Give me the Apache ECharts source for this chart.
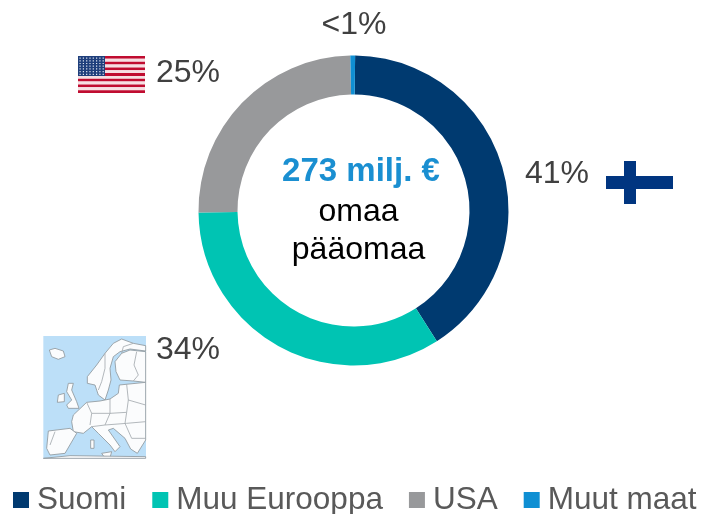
<!DOCTYPE html>
<html>
<head>
<meta charset="utf-8">
<script src="https://cdn.jsdelivr.net/npm/echarts@6/dist/echarts.min.js"></script>
<style>
html, body { margin: 0; padding: 0; background: #fff; }
#main { width: 701px; height: 514px; }
</style>
</head>
<body>
<div id="main"></div>
<script>
var categories = ['Suomi', 'Muu Eurooppa', 'USA', 'Muut maat'];
var values = [41, 34, 25, 0.5];
var valueLabels = ['41%', '34%', '25%', '<1%'];
var colors = ['#003a70', '#00c4b3', '#98999b', '#0f8fd3'];

var font = '"Liberation Sans", Arial, sans-serif';

// kiinteät paikat prosenttiteksteille (keskipiste)
var labelPos = [[557, 174], [188, 350], [188, 73], [354, 25]];

// Euroopan kartan ääriviivat, karkeasti (oma koordinaatisto, skaalataan 1/3)
var land = [
	[[58,75],[75,70],[100,78],[105,95],[85,103],[65,95]],
	[[172,155],[200,120],[225,85],[250,55],[275,42],[310,55],[347,62],[347,78],[300,72],[270,80],[250,95],[240,130],[243,165],[235,195],[225,225],[205,210],[195,180],[172,175]],
	[[255,110],[275,85],[300,75],[347,80],[347,172],[310,168],[270,165],[258,140]],
	[[115,175],[130,175],[125,195],[140,230],[147,250],[115,250],[110,240],[125,225],[110,200]],
	[[85,210],[103,205],[103,230],[82,232]],
	[[130,270],[170,232],[210,228],[240,222],[265,205],[268,180],[347,172],[347,345],[322,385],[302,372],[285,340],[250,310],[235,315],[270,365],[255,380],[240,360],[205,325],[185,305],[160,325],[130,320],[125,290]],
	[[55,318],[120,310],[140,325],[105,385],[60,390],[50,370]],
	[[182,345],[192,345],[192,370],[182,370]],
	[[215,385],[245,380],[240,398],[222,395]],
	[[40,400],[120,392],[347,395],[347,400]]
];
var borders = [
	[[225,85],[225,130],[215,170],[205,195]],
	[[275,85],[280,65],[310,55]],
	[[320,80],[312,120],[325,150],[310,168]],
	[[290,178],[295,225],[347,240]],
	[[240,222],[240,265],[290,262],[295,225]],
	[[170,232],[185,265],[180,300]],
	[[185,265],[240,265],[225,300],[185,305]],
	[[225,300],[290,295],[347,290]],
	[[290,262],[285,295],[305,340],[347,340]],
	[[60,360],[75,320]]
];

function polys(list, closed, style) {
	return list.map(function(pts) {
		return {
			type: closed ? 'polygon' : 'polyline',
			shape: { points: pts },
			style: style,
			silent: true
		};
	});
}

var europe = {
	type: 'group', x: 30, y: 325, scaleX: 1 / 3, scaleY: 1 / 3,
	children: [{
		type: 'rect',
		shape: { x: 40, y: 33, width: 308, height: 367 },
		style: { fill: '#bcdff8' }
	}].concat(
		polys(land, true, { fill: '#fbfcfd', stroke: '#8f979c', lineWidth: 2.5 }),
		polys(borders, false, { fill: null, stroke: '#a3aaaf', lineWidth: 2.5 })
	)
};

// USA:n lippu
var usa = [];
for (var i = 0; i < 13; i++) {
	usa.push({
		type: 'rect',
		shape: { x: 78, y: 56 + i * 37 / 13, width: 67, height: 37 / 13 },
		style: { fill: i % 2 ? '#f6dfe3' : '#c00c30' }
	});
}
usa.push({ type: 'rect', shape: { x: 78, y: 56, width: 27, height: 20 }, style: { fill: '#1f3f7c' } });
for (var r = 0; r < 7; r++) {
	for (var c = 0; c < 8; c++) {
		usa.push({
			type: 'rect',
			shape: { x: 79.5 + c * 3.3, y: 57.5 + r * 2.7, width: 1.2, height: 1.2 },
			style: { fill: '#dfe5f0' }
		});
	}
}

var finland = [
	{ type: 'rect', shape: { x: 606, y: 161, width: 67, height: 42 }, style: { fill: '#fff' } },
	{ type: 'rect', shape: { x: 606, y: 176, width: 67, height: 13 }, style: { fill: '#003580' } },
	{ type: 'rect', shape: { x: 624, y: 161, width: 12, height: 43 }, style: { fill: '#003580' } }
];

function centerText(text, x, y, size, color, weight) {
	return {
		type: 'text', x: x, y: y,
		style: {
			text: text, fill: color, font: weight + ' ' + size + 'px ' + font,
			textAlign: 'center', textVerticalAlign: 'middle'
		}
	};
}

var chart = echarts.init(document.getElementById('main'));
chart.setOption({
	animation: false,
	color: colors,
	legend: {
		orient: 'horizontal',
		left: 13,
		top: 484,
		width: 700,
		padding: 0,
		itemWidth: 16,
		itemHeight: 16,
		itemGap: 26,
		icon: 'rect',
		selectedMode: false,
		textStyle: { fontFamily: font, fontSize: 31.5, color: '#595959', padding: [0, 0, 0, 3] },
		data: categories
	},
	graphic: [europe].concat(usa, finland, [
		centerText('273 milj. €', 361, 172, 33, '#1a8fd1', 'bold'),
		centerText('omaa', 358.5, 212, 32, '#000', 'normal'),
		centerText('pääomaa', 358.5, 250, 32, '#000', 'normal')
	]),
	series: [{
		type: 'pie',
		center: [353.5, 210.5],
		radius: [116, 155],
		startAngle: 89.4,
		silent: true,
		label: {
			show: true,
			position: 'outside',
			fontFamily: font,
			fontSize: 32,
			color: '#404040',
			formatter: function(p) { return valueLabels[p.dataIndex]; }
		},
		labelLine: { show: false },
		labelLayout: function(p) {
			return {
				x: labelPos[p.dataIndex][0],
				y: labelPos[p.dataIndex][1],
				align: 'center',
				verticalAlign: 'middle'
			};
		},
		data: categories.map(function(name, i) {
			return { name: name, value: values[i] };
		})
	}]
});
</script>
</body>
</html>
